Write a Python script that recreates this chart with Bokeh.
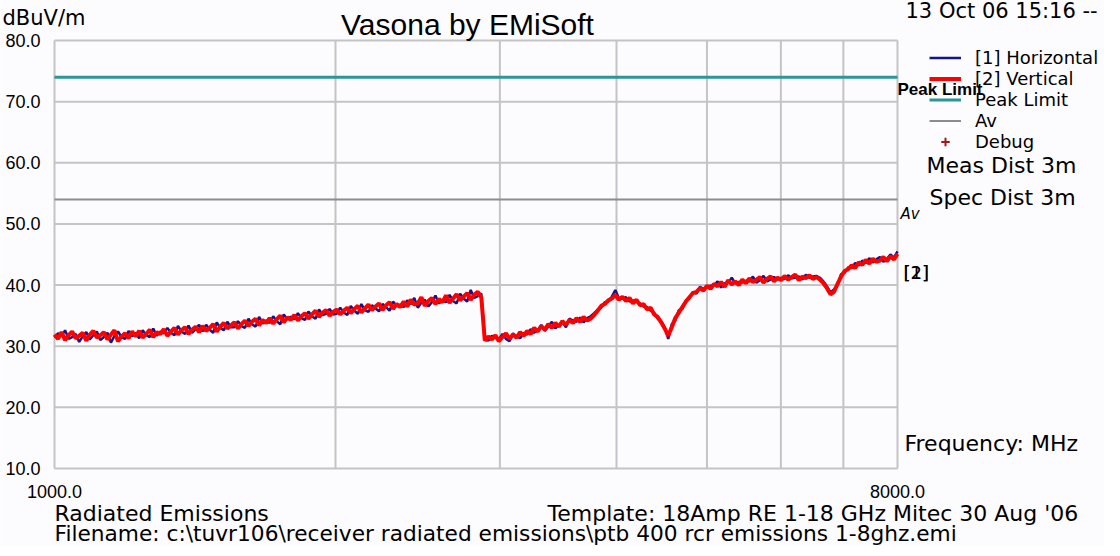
import numpy as np
from bokeh.plotting import figure
from bokeh.models import (FixedTicker, PrintfTickFormatter, Label, Legend, LegendItem,
                          LinearAxis, LogAxis)
from bokeh.embed import file_html
from bokeh.resources import INLINE

BG = "#fcfbfe"
GRID = "#c4c4c4"

# ---- data (dBuV/m) ----
horizontal_dbuv = [
    31.4, 32.1, 31.7, 32.6, 31.2, 31.5, 32.0, 30.7, 31.6, 32.3, 31.1, 31.8, 32.4,
    31.0, 31.5, 32.2, 30.6, 31.7, 32.4, 31.5, 31.2, 32.5, 31.6,
    32.2, 31.3, 32.6, 31.8, 31.5, 32.9, 31.7, 32.4,
    32.1, 33.0, 32.2, 31.8, 33.3, 32.4, 32.0, 33.4, 32.2, 32.8, 33.5,
    32.4, 33.5, 32.7, 32.2, 33.9, 33.0, 32.6, 34.0, 33.1,
    33.1, 34.1, 33.3, 33.0, 34.5, 33.6, 33.2, 34.8, 33.7, 34.2,
    33.8, 34.9, 34.1, 33.6, 35.2, 34.4, 34.8,
    34.4, 35.4, 34.6, 34.3, 35.7, 34.9, 34.5, 36.0, 35.1, 35.3, 36.1, 35.2,
    35.3, 36.3, 35.5, 35.1, 36.6, 35.8, 35.3, 36.9, 35.9, 35.6, 36.7,
    36.2, 35.7, 36.9, 36.4, 35.8, 37.3, 36.5, 36.8,
    36.4, 37.5, 36.9, 37.9, 36.3, 37.1, 37.6, 36.5, 37.2, 38.3, 37.0, 37.5,
    37.2, 38.4, 37.4, 37.0, 38.6, 37.8, 37.3, 39.2, 37.9, 38.2, 38.6,
    31.3, 30.9, 31.7, 31.4, 31.1, 32.0, 31.2, 30.8, 32.1, 31.6, 31.3, 32.2,
    31.9, 32.8, 32.2, 32.6, 33.5, 32.5, 33.2, 34.0, 32.9, 33.5, 33.9, 33.1, 34.5,
    34.2, 34.0, 34.7, 33.9, 34.6, 34.9, 35.4,
    36.0, 36.3, 37.2, 37.3, 38.1, 39.2, 37.9, 37.8, 38.0, 37.3,
    37.5, 37.2, 37.0, 36.5, 36.4, 35.8, 35.5, 34.5, 34.1, 33.1,
    31.2, 33.6, 34.2, 35.9, 36.1, 37.5, 37.8, 38.9, 38.6, 39.7, 39.4, 39.7,
    39.9, 40.0, 40.6, 39.6, 40.3, 40.4, 41.2, 40.3, 40.5, 40.4,
    40.7, 40.6, 41.4, 40.4, 40.8, 41.5, 40.6, 40.9, 41.3, 40.9,
    41.2, 41.0, 41.6, 41.1, 41.2, 41.4, 40.9, 41.7, 41.2, 41.4,
    41.5, 41.2, 40.6, 39.8, 38.8, 39.3, 40.0, 41.8, 42.0, 42.9,
    42.8, 43.6, 43.2, 44.0, 43.6, 44.4, 43.7, 44.2, 44.6, 43.8,
    44.3, 45.0, 44.5, 45.5,
]

vertical_dbuv = [
    31.9, 31.2, 32.3, 31.0, 31.8, 32.4, 31.3, 31.7, 32.2, 30.9, 31.9, 32.5, 31.4,
    31.8, 32.3, 31.1, 31.9, 32.6, 30.8, 31.6, 32.1, 31.3, 32.4,
    31.6, 32.5, 31.4, 32.0, 32.7, 31.5, 32.3, 32.0,
    32.8, 31.7, 32.4, 33.0, 31.9, 32.6, 33.1, 32.0, 32.7, 33.2, 32.3,
    33.3, 32.5, 33.0, 33.6, 32.4, 33.2, 33.8, 32.9, 33.4,
    33.9, 32.9, 33.6, 34.2, 33.3, 34.0, 34.5, 33.4, 34.3, 33.8,
    34.6, 33.7, 34.4, 35.0, 33.9, 34.7, 34.3,
    35.1, 34.2, 34.9, 35.4, 34.5, 35.2, 35.8, 34.8, 35.5, 35.9, 35.0, 35.6,
    36.0, 35.2, 35.8, 36.3, 35.4, 36.1, 36.6, 35.5, 36.2, 36.8, 35.9,
    36.5, 37.0, 35.9, 36.7, 37.2, 36.1, 36.9, 36.4,
    37.3, 36.5, 37.6, 36.8, 37.0, 38.0, 36.6, 37.4, 37.9, 36.9, 37.7, 37.2,
    38.3, 37.1, 37.8, 38.5, 37.5, 38.1, 38.7, 37.6, 38.4, 38.9, 38.0,
    30.9, 31.6, 31.1, 31.8, 30.8, 31.5, 32.1, 31.2, 31.9, 31.4, 32.3, 31.7,
    32.5, 32.0, 33.0, 32.4, 33.3, 32.7, 33.6, 33.0, 33.8, 33.2, 34.1, 33.5, 34.3,
    33.8, 34.6, 34.0, 34.8, 34.2, 34.5, 35.1,
    35.8, 36.6, 36.9, 37.5, 37.8, 38.4, 37.6, 38.1, 37.4, 37.9,
    37.0, 37.6, 36.7, 36.9, 36.0, 36.3, 35.2, 34.8, 33.9, 32.9,
    31.7, 33.1, 34.6, 35.5, 36.4, 37.3, 38.0, 38.7, 38.9, 39.5, 39.1, 39.9,
    39.4, 40.2, 39.8, 40.5, 39.7, 40.8, 40.1, 40.6, 40.0, 40.9,
    40.3, 41.1, 40.5, 40.9, 41.3, 40.4, 41.0, 41.4, 40.6, 41.2,
    40.8, 41.5, 40.9, 41.3, 41.7, 40.8, 41.4, 41.1, 41.6, 41.0,
    41.3, 40.9, 40.3, 39.5, 38.5, 38.9, 40.2, 41.4, 42.3, 42.6,
    43.2, 42.8, 43.7, 43.3, 44.1, 43.5, 44.3, 43.8, 44.0, 44.6,
    43.9, 44.7, 44.2, 45.1,
]

freq_start_mhz = 1000.0
freq_stop_mhz = 8000.0
freq_h = np.geomspace(freq_start_mhz, freq_stop_mhz, len(horizontal_dbuv))
freq_v = np.geomspace(freq_start_mhz, freq_stop_mhz, len(vertical_dbuv))

limit_freq = [1000.0, 8000.0]
peak_limit = [74.0, 74.0]
av_limit = [54.0, 54.0]
debug_freq = [float("nan")]
debug_dbuv = [float("nan")]

y_ticks = [10, 20, 30, 40, 50, 60, 70, 80]
x_ticks = [1000, 8000]
x_grid_freqs = [1000, 2000, 3000, 4000, 5000, 6000, 7000, 8000]

legend_labels = ["[1] Horizontal", "[2] Vertical", "Peak Limit", "Av", "Debug"]

# ---- layout: the frame fills the canvas; the plotting box sits inside it ----
W, H = 1104, 546
BOX_L, BOX_R, BOX_T, BOX_B = 54, 897, 40, 468   # canvas pixels
y_lo, y_hi = 10.0, 80.0
lx0, lx1 = np.log10(freq_start_mhz), np.log10(freq_stop_mhz)
ppd = (BOX_R - BOX_L) / (lx1 - lx0)
x_range = (10 ** (lx0 - BOX_L / ppd), 10 ** (lx1 + (W - BOX_R) / ppd))
ppu = (BOX_B - BOX_T) / (y_hi - y_lo)
y_range = (y_lo - (H - BOX_B) / ppu, y_hi + BOX_T / ppu)

p = figure(width=W, height=H, x_axis_type="log", x_range=x_range, y_range=y_range,
           x_axis_location=None, y_axis_location=None,
           output_backend="svg", toolbar_location=None,
           min_border_left=0, min_border_right=0, min_border_top=0, min_border_bottom=0)
p.background_fill_color = BG
p.border_fill_color = BG
p.outline_line_color = None
p.grid.visible = False

# grid lines (incl. box edges)
p.segment(x0=x_grid_freqs, y0=[y_lo] * len(x_grid_freqs), x1=x_grid_freqs,
          y1=[y_hi] * len(x_grid_freqs), line_color=GRID, line_width=2)
p.segment(x0=[freq_start_mhz] * len(y_ticks), y0=y_ticks, x1=[freq_stop_mhz] * len(y_ticks),
          y1=y_ticks, line_color=GRID, line_width=2)

# axes drawn at the box edges
yax = LinearAxis(fixed_location=freq_start_mhz, ticker=FixedTicker(ticks=y_ticks),
                 formatter=PrintfTickFormatter(format="%.1f"))
xax = LogAxis(fixed_location=y_lo, ticker=FixedTicker(ticks=x_ticks),
              formatter=PrintfTickFormatter(format="%.1f"))
for ax in (xax, yax):
    ax.axis_line_color = None
    ax.major_tick_line_color = None
    ax.minor_tick_line_color = None
    ax.major_label_text_font = "Liberation Sans"
    ax.major_label_text_font_size = "18px"
    ax.major_label_text_color = "black"
yax.major_label_standoff = 8
xax.major_label_standoff = 10
p.add_layout(yax, "left")
p.add_layout(xax, "below")

pk = p.line(limit_freq, peak_limit, line_color="#2a9696", line_width=3)
av = p.line(limit_freq, av_limit, line_color="#8c8c8c", line_width=2)
h = p.line(freq_h, horizontal_dbuv, line_color="#14148c", line_width=2.5)
v = p.line(freq_v, vertical_dbuv, line_color="#ff0000", line_width=4)
dbg = p.scatter(x=debug_freq, y=debug_dbuv, marker="cross", size=14,
                line_color="#a01818", line_width=2)

legend = Legend(items=[
    LegendItem(label=legend_labels[0], renderers=[h]),
    LegendItem(label=legend_labels[1], renderers=[v]),
    LegendItem(label=legend_labels[2], renderers=[pk]),
    LegendItem(label=legend_labels[3], renderers=[av]),
    LegendItem(label=legend_labels[4], renderers=[dbg]),
], location=(929, 394), orientation="vertical", padding=0, spacing=0, margin=0,
    glyph_width=32, glyph_height=21, label_height=21, label_standoff=14,
    label_text_font="DejaVu Sans", label_text_font_size="18px",
    label_text_color="black",
    border_line_alpha=0, background_fill_alpha=0)
p.add_layout(legend)


def lab(x, y, text, size, font="DejaVu Sans", align="left", style="normal"):
    p.add_layout(Label(x=x, y=y, x_units="screen", y_units="screen", text=text,
                       text_font=font, text_font_size=size, text_align=align,
                       text_baseline="middle", text_font_style=style,
                       text_color="black"))


lab(467, 522, "Vasona by EMiSoft", "30px", font="Liberation Sans", align="center")
lab(2, 529, "dBuV/m", "21px")
lab(905, 536, "13 Oct 06 15:16 --", "21px")
lab(926, 381, "Meas Dist 3m", "22px")
lab(929, 349, "Spec Dist 3m", "22px")
lab(904, 103, "Frequency: MHz", "22px")
lab(54, 33, "Radiated Emissions", "22px")
lab(547, 33, "Template: 18Amp RE 1-18 GHz Mitec 30 Aug '06", "22px")
lab(54, 13, r"Filename: c:\tuvr106\receiver radiated emissions\ptb 400 rcr emissions 1-8ghz.emi", "21.7px")

# labels attached to the trace ends
p.add_layout(Label(x=freq_stop_mhz, y=peak_limit[-1], text="Peak Limit", x_offset=0, y_offset=-12,
                   text_font="Liberation Sans", text_font_size="17px", text_font_style="bold",
                   text_baseline="middle", text_color="black"))
p.add_layout(Label(x=freq_stop_mhz, y=av_limit[-1], text="Av", x_offset=3, y_offset=-15,
                   text_font="DejaVu Sans", text_font_size="15px", text_font_style="italic",
                   text_baseline="middle", text_color="black"))
for t in ("[2]", "[1]"):
    p.add_layout(Label(x=freq_stop_mhz, y=vertical_dbuv[-1], text=t, x_offset=6, y_offset=-19,
                       text_font="DejaVu Sans", text_font_size="18px",
                       text_baseline="middle", text_color="black"))

open("out.html", "w").write(file_html(p, INLINE))
